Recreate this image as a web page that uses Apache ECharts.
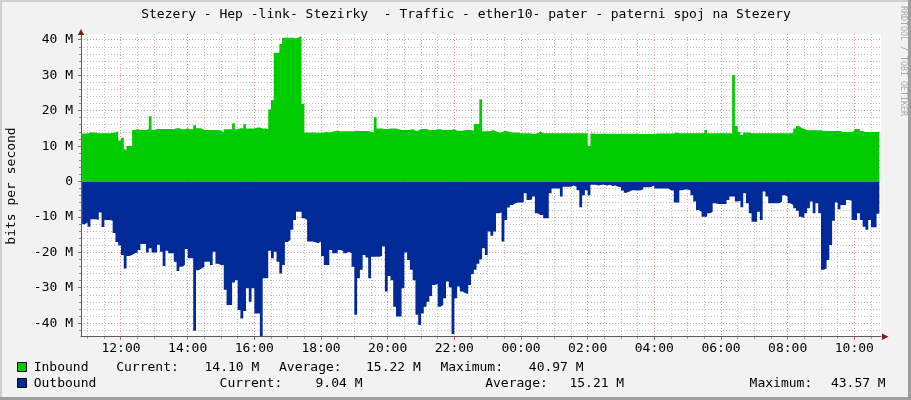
<!DOCTYPE html>
<html>
<head>
<meta charset="utf-8">
<script src="https://cdn.jsdelivr.net/npm/echarts@6/dist/echarts.min.js"></script>
<style>
html,body{margin:0;padding:0;background:#F2F2F2;}
#c{width:911px;height:400px;}
</style>
</head>
<body>
<div id="c"></div>
<script>
// ---------------- data ----------------
const titleText = 'Stezery - Hep -link- Stezirky  - Traffic - ether10- pater - paterni spoj na Stezery';
const yAxisName = 'bits per second';
const watermark = 'RRDTOOL / TOBI OETIKER';
const seriesNames = ['Inbound', 'Outbound'];
const seriesColors = ['#00CC00', '#002A97'];

// 5-minute samples, first sample at 10:50 (hours since midnight of day 1)
const firstSampleHour = 10 + 50 / 60;
const sampleStepHours = 5 / 60;

// Inbound, Mbit/s
const inbound = [
  13.6,13.6,13.6,13.9,13.9,13.9,13.7,13.7,13.7,13.7,
  13.7,13.8,13.9,14.2,11.6,12.4,9.1,10.1,10.1,14.6,
  14.9,14.6,14.6,14.6,14.8,18.5,14.6,14.9,14.9,14.9,
  14.9,14.9,14.9,14.8,15.05,15.05,14.8,14.8,15.05,14.8,
  14.8,15.9,15.05,15.0,14.6,14.6,14.6,14.6,14.6,14.6,
  14.4,13.9,14.8,14.8,14.8,16.5,14.8,15.05,15.05,16.2,
  15.0,15.0,15.0,15.3,15.3,15.0,15.0,14.8,20.4,23.0,
  36.4,36.4,38.9,40.6,40.6,40.6,40.6,40.4,40.8,40.97,
  21.9,13.9,13.8,13.9,13.8,13.8,13.8,13.9,14.0,13.9,
  14.1,14.2,14.4,14.2,14.2,14.2,14.2,14.2,14.2,14.4,
  14.3,14.3,14.3,14.3,14.1,13.8,18.2,15.0,15.0,14.9,
  14.9,15.0,15.0,15.0,14.8,14.6,14.6,14.6,14.6,14.9,
  14.4,14.4,14.9,14.9,14.9,14.6,14.6,14.6,14.8,14.8,
  14.6,14.6,14.6,14.6,14.9,14.4,14.4,14.4,14.6,14.6,
  14.6,14.4,16.3,16.3,23.3,14.2,14.2,14.2,14.6,14.2,
  13.9,13.9,14.3,14.3,14.0,13.9,13.9,13.9,13.7,13.7,
  13.7,13.7,13.5,13.5,13.7,14.2,13.7,13.7,13.7,13.7,
  13.7,13.7,13.7,13.7,13.7,13.7,13.7,13.7,13.7,13.7,
  13.7,13.7,13.7,10.1,13.6,13.5,13.5,13.5,13.5,13.5,
  13.5,13.5,13.5,13.5,13.5,13.5,13.5,13.5,13.5,13.5,
  13.5,13.45,13.45,13.45,13.45,13.45,13.45,13.6,13.6,13.6,
  13.6,13.6,13.6,13.6,13.9,13.7,13.7,13.7,13.7,13.7,
  13.7,13.7,13.7,13.7,13.7,14.6,13.7,13.7,13.7,13.7,
  13.7,13.7,13.7,13.7,13.7,30.1,15.7,14.0,13.2,13.9,
  13.9,13.7,13.7,13.7,13.7,13.7,13.7,13.7,13.7,13.7,
  13.7,13.7,13.7,13.7,13.7,13.7,13.7,15.0,15.7,15.2,
  14.9,14.6,14.5,14.5,14.5,14.5,14.5,14.3,14.3,14.3,
  14.3,14.3,14.3,14.3,14.0,14.0,14.0,14.0,14.3,14.9,
  14.9,14.3,14.0,14.0,14.0,14.0,14.0,14.1
];

// Outbound, Mbit/s (drawn below zero)
const outbound = [
  10.8,12.0,11.5,12.7,10.6,10.6,10.8,8.7,12.8,10.8,
  10.8,11.0,14.5,17.0,18.0,20.7,24.5,21.0,20.7,20.2,
  20.0,19.3,17.6,17.6,20.0,18.8,20.0,20.0,17.8,19.8,
  23.8,19.5,20.2,20.2,22.6,25.2,24.0,23.5,19.0,21.6,
  21.6,42.1,25.0,24.5,24.0,22.6,22.6,23.5,19.8,23.2,
  23.5,23.5,30.5,34.8,34.8,28.5,27.8,36.2,38.6,36.5,
  30.1,33.9,30.1,37.2,37.2,43.57,27.3,27.3,19.5,21.6,
  19.8,22.6,25.9,23.5,17.0,16.5,13.6,10.8,8.5,8.5,
  10.3,10.8,16.9,16.9,17.1,17.4,16.9,21.0,23.5,23.5,
  19.3,20.2,20.2,19.3,19.6,20.2,19.8,20.2,24.0,37.6,
  27.3,24.9,20.7,21.4,27.3,21.2,21.2,21.2,21.0,18.3,
  31.0,26.6,27.8,35.3,38.1,38.1,30.1,20.0,22.1,24.9,
  27.8,37.6,40.5,37.2,35.3,33.9,32.3,29.2,28.9,35.3,
  34.8,32.9,28.2,29.8,43.0,32.9,29.6,31.0,31.5,31.7,
  29.2,26.1,24.9,23.2,21.9,18.8,20.7,14.1,15.3,14.1,
  8.9,8.7,16.9,10.8,7.3,6.6,6.1,5.9,5.9,5.8,
  3.3,5.2,5.0,4.2,8.9,9.4,9.4,10.3,10.3,3.3,
  1.9,1.9,1.9,4.2,1.4,1.4,1.4,1.1,1.4,2.4,
  7.2,3.8,2.4,3.8,0.9,0.9,1.1,0.9,0.9,1.1,
  0.9,1.2,1.1,1.4,1.6,2.5,3.1,2.8,2.4,2.4,
  2.5,2.4,2.2,1.6,1.6,1.4,1.1,1.9,1.9,1.9,
  1.9,1.9,2.4,2.5,5.9,5.9,2.4,2.2,2.2,2.5,
  3.8,5.6,8.0,8.5,9.9,9.9,8.9,8.5,6.1,6.3,
  6.3,6.3,6.3,5.2,4.2,4.2,5.6,5.4,7.2,3.3,
  6.1,8.9,11.3,11.3,8.5,10.8,2.8,4.2,6.1,6.1,
  6.1,6.1,5.6,3.8,4.2,6.1,6.6,7.5,8.2,9.9,
  10.3,8.9,7.5,5.6,8.9,6.1,8.9,24.9,24.5,22.1,
  17.9,11.0,5.9,7.8,6.6,6.6,5.2,5.4,10.8,10.8,
  8.9,10.8,12.7,13.6,10.8,12.9,12.9,9.04
];

// axis ticks
const xTickValues = [12, 14, 16, 18, 20, 22, 24, 26, 28, 30, 32, 34];
const xTickLabels = ['12:00','14:00','16:00','18:00','20:00','22:00','00:00','02:00','04:00','06:00','08:00','10:00'];
const yTickValues = [-40, -30, -20, -10, 0, 10, 20, 30, 40];
const yTickLabels = ['-40 M','-30 M','-20 M','-10 M','0','10 M','20 M','30 M','40 M'];

// legend statistics
const statCurrent = ['14.10 M', '9.04 M'];
const statAverage = ['15.22 M', '15.21 M'];
const statMaximum = ['40.97 M', '43.57 M'];

// ---------------- layout / style ----------------
const FONT = 'DejaVu Sans Mono';
const X_MIN = 10.8, X_MAX = 34.8;
const Y_MIN = -43.77, Y_MAX = 41.69;
const GRID = { left: 81, top: 34, right: 30, bottom: 63.3 };
const MAJOR_COLOR = '#E89A9A';
const MINOR_COLOR = '#C2C2C2';
const DOTS = [1, 2];

const xMinor = [];
for (let h = 11; h <= 34.5 + 1e-9; h += 0.5) if (xTickValues.indexOf(h) < 0) xMinor.push(h);
const yMinor = [];
for (let v = -42; v <= 40; v += 2) if (v % 10 !== 0) yMinor.push(v);

const times = inbound.map((_, i) => firstSampleHour + i * sampleStepHours);
const inData = times.map((t, i) => [t, inbound[i]]);
const outData = times.map((t, i) => [t, -outbound[i]]);

const legendRows = [
  { y: 368, items: [[33.7, seriesNames[0]], [116.2, 'Current:'], [204.5, statCurrent[0]], [279, 'Average:'], [366, statAverage[0]], [440.4, 'Maximum:'], [528.8, statMaximum[0]]] },
  { y: 384, items: [[33.7, seriesNames[1]], [219.6, 'Current:'], [315.5, statCurrent[1]], [485.2, 'Average:'], [569.4, statAverage[1]], [749.6, 'Maximum:'], [830.9, statMaximum[1]]] }
];

const graphic = [
  { type: 'rect', silent: true, shape: { x: 0, y: 0, width: 911, height: 2 }, style: { fill: '#CFCFCF' } },
  { type: 'rect', silent: true, shape: { x: 0, y: 0, width: 2, height: 400 }, style: { fill: '#CFCFCF' } },
  { type: 'rect', silent: true, shape: { x: 908, y: 0, width: 3, height: 400 }, style: { fill: '#9E9E9E' } },
  { type: 'rect', silent: true, shape: { x: 0, y: 397, width: 911, height: 3 }, style: { fill: '#9E9E9E' } },
  { type: 'text', silent: true, x: 466, y: 15, style: { text: titleText, font: '13px "' + FONT + '"', fill: '#000', align: 'center', verticalAlign: 'middle' } },
  { type: 'text', silent: true, x: 12, y: 186, rotation: Math.PI / 2, style: { text: yAxisName, font: '13px "' + FONT + '"', fill: '#000', align: 'center', verticalAlign: 'middle' } },
  { type: 'text', silent: true, x: 903, y: 61, rotation: -Math.PI / 2, style: { text: watermark, font: '8.3px "' + FONT + '"', fill: '#A8A8A8', align: 'center', verticalAlign: 'middle' } },
  { type: 'polygon', silent: true, z: 10, shape: { points: [[77.8, 35], [84.2, 35], [81, 29]] }, style: { fill: '#801F1F' } },
  { type: 'polygon', silent: true, z: 10, shape: { points: [[882, 333.5], [882, 340], [888.5, 336.7]] }, style: { fill: '#801F1F' } }
];
legendRows.forEach((row, r) => {
  graphic.push({ type: 'rect', silent: true, shape: { x: 17.5, y: row.y - 5.5, width: 9, height: 9 }, style: { fill: seriesColors[r], stroke: '#000', lineWidth: 1 } });
  row.items.forEach(([x, txt]) => {
    graphic.push({ type: 'text', silent: true, x: x, y: row.y, style: { text: txt, font: '13px "' + FONT + '"', fill: '#000', align: 'left', verticalAlign: 'middle' } });
  });
});

const chart = echarts.init(document.getElementById('c'), null, { renderer: 'canvas' });
chart.setOption({
  animation: false,
  backgroundColor: '#F2F2F2',
  grid: Object.assign({ show: true, z: -1, backgroundColor: '#FFFFFF', borderWidth: 0, containLabel: false, outerBoundsMode: 'none' }, GRID),
  xAxis: {
    type: 'value', min: X_MIN, max: X_MAX, position: 'bottom', z: 5,
    axisLine: { show: true, onZero: false, lineStyle: { color: '#5A5A5A', width: 1 } },
    axisTick: { show: false, customValues: xTickValues },
    axisLabel: {
      show: true, customValues: xTickValues, margin: 5, fontFamily: FONT, fontSize: 13, color: '#000',
      formatter: v => { const k = xTickValues.indexOf(v); return k >= 0 ? xTickLabels[k] : ''; }
    },
    splitLine: { show: false }
  },
  yAxis: {
    type: 'value', min: Y_MIN, max: Y_MAX, position: 'left', z: 5,
    axisLine: { show: true, onZero: false, lineStyle: { color: '#5A5A5A', width: 1 } },
    axisTick: { show: false, customValues: yTickValues },
    axisLabel: {
      show: true, customValues: yTickValues, margin: 8, fontFamily: FONT, fontSize: 13, color: '#000',
      formatter: v => { const k = yTickValues.indexOf(v); return k >= 0 ? yTickLabels[k] : ''; }
    },
    splitLine: { show: false }
  },
  series: [
    {
      name: seriesNames[0], type: 'line', step: 'start', symbol: 'none', z: 2,
      data: inData, lineStyle: { width: 0, color: seriesColors[0] }, areaStyle: { color: seriesColors[0], opacity: 1 }, silent: true
    },
    {
      name: seriesNames[1], type: 'line', step: 'start', symbol: 'none', z: 2,
      data: outData, lineStyle: { width: 0, color: seriesColors[1] }, areaStyle: { color: seriesColors[1], opacity: 1 }, silent: true
    }
  ],
  graphic: graphic
});

// grid lines and ticks placed through the axes' own scales
const plotTop = GRID.top, plotBottom = 400 - GRID.bottom;
const plotLeft = GRID.left, plotRight = 911 - GRID.right;
const crisp = p => Math.round(p - 0.5) + 0.5;
const gridEls = [];
function addLine(x1, y1, x2, y2, color, dash) {
  gridEls.push({ type: 'line', silent: true, z: 1, shape: { x1: x1, y1: y1, x2: x2, y2: y2 },
    style: { stroke: color, lineWidth: 1, lineDash: dash || null } });
}
xMinor.forEach(v => {
  const x = crisp(chart.convertToPixel({ xAxisIndex: 0 }, v));
  addLine(x, plotTop, x, plotBottom, MINOR_COLOR, DOTS);
  addLine(x, plotBottom, x, plotBottom + 2, '#8F8F8F');
});
yMinor.forEach(v => {
  const y = crisp(chart.convertToPixel({ yAxisIndex: 0 }, v));
  addLine(plotLeft, y, plotRight, y, MINOR_COLOR, DOTS);
  addLine(plotLeft - 2, y, plotLeft, y, '#8F8F8F');
});
xTickValues.forEach(v => {
  const x = crisp(chart.convertToPixel({ xAxisIndex: 0 }, v));
  addLine(x, plotTop, x, plotBottom, MAJOR_COLOR, DOTS);
  addLine(x, plotBottom, x, plotBottom + 3, '#E05050');
});
yTickValues.forEach(v => {
  const y = crisp(chart.convertToPixel({ yAxisIndex: 0 }, v));
  addLine(plotLeft, y, plotRight, y, MAJOR_COLOR, DOTS);
  addLine(plotLeft - 3, y, plotLeft, y, '#E05050');
});
chart.setOption({ graphic: graphic.concat(gridEls) });
</script>
</body>
</html>
